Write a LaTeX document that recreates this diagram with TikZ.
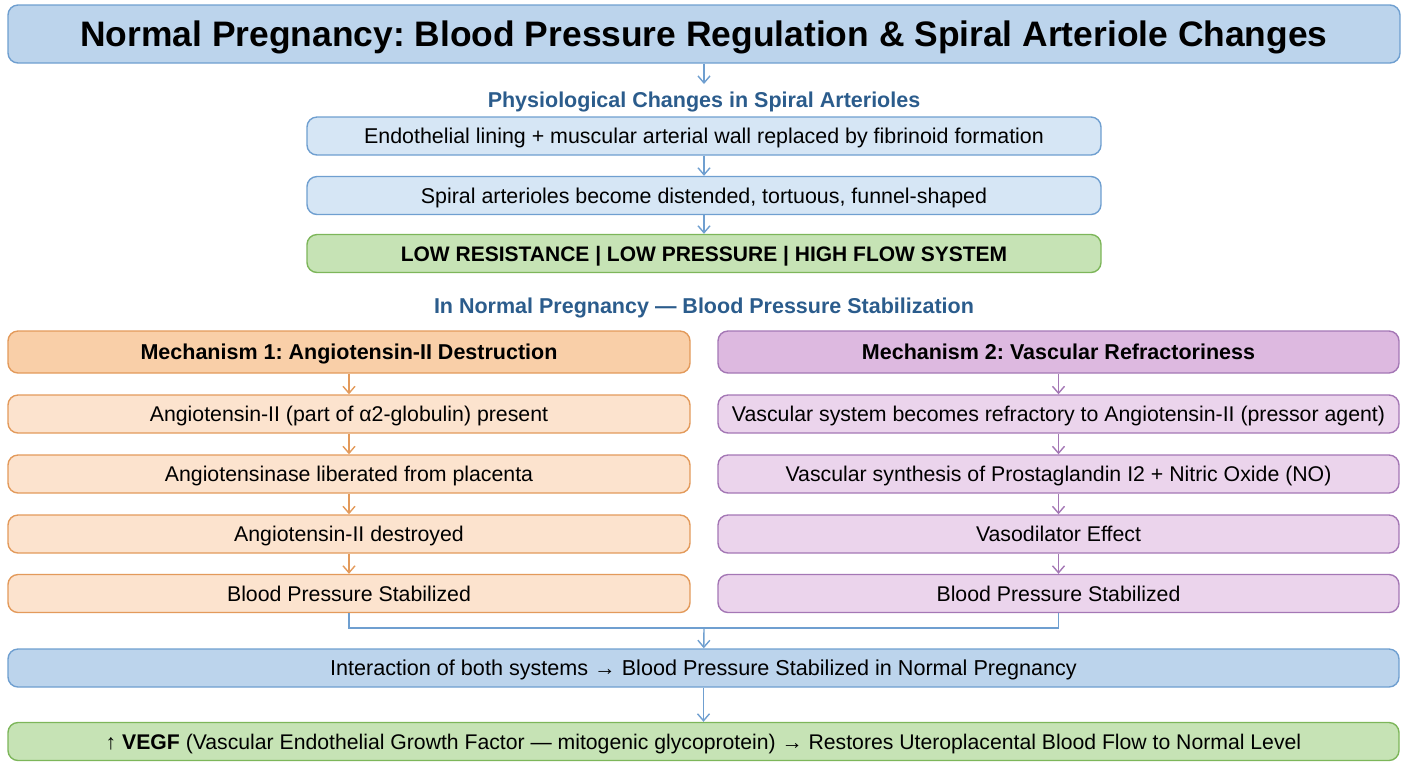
\documentclass[tikz,border=0pt]{standalone}
\usepackage{fontspec}
\setmainfont{Liberation Sans}
\frenchspacing
\usetikzlibrary{arrows.meta}
\definecolor{bleuTitre}{HTML}{BCD4EC}
\definecolor{bleuFond}{HTML}{D6E6F5}
\definecolor{bleuBord}{HTML}{6F9FD0}
\definecolor{bleuTexte}{HTML}{2B5C8C}
\definecolor{vertFond}{HTML}{C6E3B5}
\definecolor{vertBord}{HTML}{7DB65A}
\definecolor{orangeTete}{HTML}{F9CFA8}
\definecolor{orangeFond}{HTML}{FCE3CE}
\definecolor{orangeBord}{HTML}{E39A5B}
\definecolor{violetTete}{HTML}{DDB9E0}
\definecolor{violetFond}{HTML}{EBD4EC}
\definecolor{violetBord}{HTML}{A477B5}
\begin{document}
\begin{tikzpicture}[x=0.5pt,y=-0.5pt]
	% Styles des boites et des fleches
	\tikzset{
		boite/.style={draw, rounded corners=5pt, line width=0.7pt, align=center, inner sep=0pt, minimum height=19pt, text height=7.6pt, text depth=0pt},
		bleue/.style={boite, draw=bleuBord, fill=bleuFond, minimum width=397pt, font=\fontsize{10.7}{12}\selectfont},
		verte/.style={boite, draw=vertBord, fill=vertFond},
		orange/.style={boite, draw=orangeBord, fill=orangeFond, minimum width=341pt, font=\fontsize{10.65}{12}\selectfont},
		violet/.style={boite, draw=violetBord, fill=violetFond, minimum width=340.5pt, font=\fontsize{10.65}{12}\selectfont},
		large/.style={minimum width=695.5pt, font=\fontsize{10.8}{12}\selectfont},
		rubrique/.style={text=bleuTexte, font=\bfseries\fontsize{10.75}{12}\selectfont, inner sep=0pt, text height=7.7pt, text depth=0pt},
		fleche/.style={-{Straight Barb[length=3.5pt,width=6pt]}, line width=0.7pt}
	}
	\useasboundingbox (0,0) rectangle (1408,768);
	% Titre
	\node[boite, draw=bleuBord, fill=bleuTitre, minimum width=696pt, minimum height=29pt, text height=12.7pt, font=\bfseries\fontsize{17.7}{20}\selectfont] (titre) at (704,34) {Normal Pregnancy: Blood Pressure Regulation \& Spiral Arteriole Changes};
	\coordinate (haut) at (704,84);
	\node[rubrique] (physio) at (704,100) {Physiological Changes in Spiral Arterioles};
	\node[bleue] (b1) at (704,136) {Endothelial lining + muscular arterial wall replaced by fibrinoid formation};
	\node[bleue] (b2) at (704,195.5) {Spiral arterioles become distended, tortuous, funnel-shaped};
	\node[verte, minimum width=397pt, font=\bfseries\fontsize{10.5}{12}\selectfont] (basse) at (704,253.5) {LOW RESISTANCE | LOW PRESSURE | HIGH FLOW SYSTEM};
	\draw[fleche, bleuBord] (titre) -- (haut);
	\draw[fleche, bleuBord] (b1) -- (b2);
	\draw[fleche, bleuBord] (b2) -- (basse);
	% Deux mecanismes
	\node[rubrique] (stab) at (704,306) {In Normal Pregnancy — Blood Pressure Stabilization};
	\node[orange, fill=orangeTete, minimum height=21pt, font=\bfseries\fontsize{10.75}{12}\selectfont] (g0) at (349,352) {Mechanism 1: Angiotensin-II Destruction};
	\node[orange] (g1) at (349,414) {Angiotensin-II (part of α2-globulin) present};
	\node[orange] (g2) at (349,474) {Angiotensinase liberated from placenta};
	\node[orange] (g3) at (349,534) {Angiotensin-II destroyed};
	\node[orange] (g4) at (349,593.5) {Blood Pressure Stabilized};
	\node[violet, fill=violetTete, minimum height=21pt, font=\bfseries\fontsize{10.75}{12}\selectfont] (d0) at (1058.5,352) {Mechanism 2: Vascular Refractoriness};
	\node[violet] (d1) at (1058.5,414) {Vascular system becomes refractory to Angiotensin-II (pressor agent)};
	\node[violet] (d2) at (1058.5,474) {Vascular synthesis of Prostaglandin I2 + Nitric Oxide (NO)};
	\node[violet] (d3) at (1058.5,534) {Vasodilator Effect};
	\node[violet] (d4) at (1058.5,593.5) {Blood Pressure Stabilized};
	\foreach \a/\b in {0/1,1/2,2/3,3/4} {
		\draw[fleche, orangeBord] (g\a) -- (g\b);
		\draw[fleche, violetBord] (d\a) -- (d\b);
	}
	% Synthese
	\coordinate (fus) at (704,628);
	\node[boite, large, draw=bleuBord, fill=bleuTitre] (inter) at (703.5,668) {Interaction of both systems → Blood Pressure Stabilized in Normal Pregnancy};
	\node[verte, large, font=\fontsize{10.6}{12}\selectfont] (vegf) at (703.5,741.5) {↑ \textbf{VEGF} (Vascular Endothelial Growth Factor — mitogenic glycoprotein) → Restores Uteroplacental Blood Flow to Normal Level};
	\draw[bleuBord, line width=0.7pt] (g4.south) |- (fus) -| (d4.south);
	\draw[fleche, bleuBord] (fus) -- (inter);
	\draw[fleche, bleuBord] (inter) -- (vegf);
\end{tikzpicture}
\end{document}
